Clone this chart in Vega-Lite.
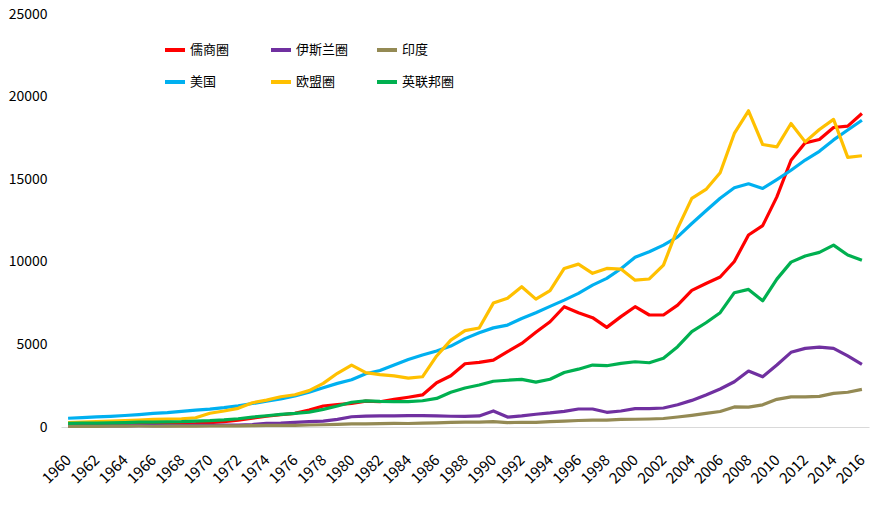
{
  "$schema": "https://vega.github.io/schema/vega-lite/v6.json",
  "autosize": {"type": "none"},
  "padding": {"left": 61, "top": 14, "right": 17, "bottom": 81},
  "width": 808,
  "height": 413,
  "background": "white",
  "data": {
    "values": [
      {"year": 1960, "儒商圈": 200, "伊斯兰圈": 60, "印度": 37, "美国": 530, "欧盟圈": 260, "英联邦圈": 220},
      {"year": 1961, "儒商圈": 200, "伊斯兰圈": 62, "印度": 39, "美国": 565, "欧盟圈": 290, "英联邦圈": 230},
      {"year": 1962, "儒商圈": 195, "伊斯兰圈": 65, "印度": 42, "美国": 610, "欧盟圈": 320, "英联邦圈": 240},
      {"year": 1963, "儒商圈": 195, "伊斯兰圈": 68, "印度": 48, "美国": 645, "欧盟圈": 350, "英联邦圈": 250},
      {"year": 1964, "儒商圈": 195, "伊斯兰圈": 72, "印度": 56, "美国": 695, "欧盟圈": 380, "英联邦圈": 270},
      {"year": 1965, "儒商圈": 190, "伊斯兰圈": 78, "印度": 59, "美国": 750, "欧盟圈": 420, "英联邦圈": 290},
      {"year": 1966, "儒商圈": 185, "伊斯兰圈": 82, "印度": 45, "美国": 820, "欧盟圈": 460, "英联邦圈": 300},
      {"year": 1967, "儒商圈": 185, "伊斯兰圈": 85, "印度": 50, "美国": 870, "欧盟圈": 480, "英联邦圈": 310},
      {"year": 1968, "儒商圈": 185, "伊斯兰圈": 90, "印度": 53, "美国": 950, "欧盟圈": 500, "英联邦圈": 320},
      {"year": 1969, "儒商圈": 210, "伊斯兰圈": 95, "印度": 58, "美国": 1020, "欧盟圈": 560, "英联邦圈": 350},
      {"year": 1970, "儒商圈": 260, "伊斯兰圈": 100, "印度": 62, "美国": 1080, "欧盟圈": 830, "英联邦圈": 380},
      {"year": 1971, "儒商圈": 330, "伊斯兰圈": 110, "印度": 67, "美国": 1170, "欧盟圈": 970, "英联邦圈": 430},
      {"year": 1972, "儒商圈": 420, "伊斯兰圈": 120, "印度": 71, "美国": 1280, "欧盟圈": 1130, "英联邦圈": 500},
      {"year": 1973, "儒商圈": 540, "伊斯兰圈": 150, "印度": 85, "美国": 1420, "欧盟圈": 1470, "英联邦圈": 600},
      {"year": 1974, "儒商圈": 650, "伊斯兰圈": 220, "印度": 99, "美国": 1560, "欧盟圈": 1630, "英联邦圈": 680},
      {"year": 1975, "儒商圈": 740, "伊斯兰圈": 240, "印度": 98, "美国": 1700, "欧盟圈": 1830, "英联邦圈": 760},
      {"year": 1976, "儒商圈": 830, "伊斯兰圈": 280, "印度": 102, "美国": 1880, "欧盟圈": 1950, "英联邦圈": 820},
      {"year": 1977, "儒商圈": 1020, "伊斯兰圈": 320, "印度": 121, "美国": 2110, "欧盟圈": 2200, "英联邦圈": 900},
      {"year": 1978, "儒商圈": 1270, "伊斯兰圈": 360, "印度": 137, "美国": 2380, "欧盟圈": 2640, "英联邦圈": 1070},
      {"year": 1979, "儒商圈": 1350, "伊斯兰圈": 460, "印度": 153, "美国": 2640, "欧盟圈": 3250, "英联邦圈": 1270},
      {"year": 1980, "儒商圈": 1430, "伊斯兰圈": 620, "印度": 186, "美国": 2860, "欧盟圈": 3750, "英联邦圈": 1500},
      {"year": 1981, "儒商圈": 1570, "伊斯兰圈": 660, "印度": 193, "美国": 3220, "欧盟圈": 3290, "英联邦圈": 1580},
      {"year": 1982, "儒商圈": 1530, "伊斯兰圈": 670, "印度": 200, "美国": 3420, "欧盟圈": 3170, "英联邦圈": 1550},
      {"year": 1983, "儒商圈": 1670, "伊斯兰圈": 670, "印度": 218, "美国": 3750, "欧盟圈": 3090, "英联邦圈": 1540},
      {"year": 1984, "儒商圈": 1800, "伊斯兰圈": 690, "印度": 212, "美国": 4080, "欧盟圈": 2960, "英联邦圈": 1540},
      {"year": 1985, "儒商圈": 1940, "伊斯兰圈": 690, "印度": 232, "美国": 4360, "欧盟圈": 3040, "英联邦圈": 1590},
      {"year": 1986, "儒商圈": 2680, "伊斯兰圈": 670, "印度": 248, "美国": 4600, "欧盟圈": 4300, "英联邦圈": 1730},
      {"year": 1987, "儒商圈": 3100, "伊斯兰圈": 650, "印度": 279, "美国": 4900, "欧盟圈": 5260, "英联邦圈": 2100},
      {"year": 1988, "儒商圈": 3830, "伊斯兰圈": 640, "印度": 296, "美国": 5350, "欧盟圈": 5830, "英联邦圈": 2360},
      {"year": 1989, "儒商圈": 3910, "伊斯兰圈": 670, "印度": 296, "美国": 5700, "欧盟圈": 5990, "英联邦圈": 2540},
      {"year": 1990, "儒商圈": 4050, "伊斯兰圈": 970, "印度": 321, "美国": 6000, "欧盟圈": 7500, "英联邦圈": 2770},
      {"year": 1991, "儒商圈": 4560, "伊斯兰圈": 600, "印度": 270, "美国": 6170, "欧盟圈": 7800, "英联邦圈": 2830},
      {"year": 1992, "儒商圈": 5060, "伊斯兰圈": 670, "印度": 288, "美国": 6570, "欧盟圈": 8490, "英联邦圈": 2880},
      {"year": 1993, "儒商圈": 5730, "伊斯兰圈": 770, "印度": 279, "美国": 6920, "欧盟圈": 7740, "英联邦圈": 2720},
      {"year": 1994, "儒商圈": 6370, "伊斯兰圈": 850, "印度": 327, "美国": 7300, "欧盟圈": 8250, "英联邦圈": 2890},
      {"year": 1995, "儒商圈": 7280, "伊斯兰圈": 950, "印度": 360, "美国": 7680, "欧盟圈": 9600, "英联邦圈": 3300},
      {"year": 1996, "儒商圈": 6920, "伊斯兰圈": 1090, "印度": 393, "美国": 8090, "欧盟圈": 9860, "英联邦圈": 3500},
      {"year": 1997, "儒商圈": 6620, "伊斯兰圈": 1090, "印度": 415, "美国": 8590, "欧盟圈": 9300, "英联邦圈": 3750},
      {"year": 1998, "儒商圈": 6030, "伊斯兰圈": 890, "印度": 421, "美国": 9000, "欧盟圈": 9600, "英联邦圈": 3710},
      {"year": 1999, "儒商圈": 6680, "伊斯兰圈": 970, "印度": 458, "美国": 9580, "欧盟圈": 9560, "英联邦圈": 3850},
      {"year": 2000, "儒商圈": 7280, "伊斯兰圈": 1110, "印度": 468, "美国": 10280, "欧盟圈": 8890, "英联邦圈": 3950},
      {"year": 2001, "儒商圈": 6780, "伊斯兰圈": 1110, "印度": 485, "美国": 10610, "欧盟圈": 8960, "英联邦圈": 3890},
      {"year": 2002, "儒商圈": 6780, "伊斯兰圈": 1150, "印度": 515, "美国": 11010, "欧盟圈": 9800, "英联邦圈": 4160},
      {"year": 2003, "儒商圈": 7380, "伊斯兰圈": 1350, "印度": 607, "美国": 11510, "欧盟圈": 12020, "英联邦圈": 4860},
      {"year": 2004, "儒商圈": 8270, "伊斯兰圈": 1610, "印度": 709, "美国": 12320, "欧盟圈": 13840, "英联邦圈": 5770},
      {"year": 2005, "儒商圈": 8690, "伊斯兰圈": 1940, "印度": 820, "美国": 13090, "欧盟圈": 14380, "英联邦圈": 6310},
      {"year": 2006, "儒商圈": 9080, "伊斯兰圈": 2300, "印度": 940, "美国": 13850, "欧盟圈": 15390, "英联邦圈": 6920},
      {"year": 2007, "儒商圈": 10020, "伊斯兰圈": 2740, "印度": 1216, "美国": 14480, "欧盟圈": 17770, "英联邦圈": 8130},
      {"year": 2008, "儒商圈": 11620, "伊斯兰圈": 3390, "印度": 1199, "美国": 14720, "欧盟圈": 19140, "英联邦圈": 8330},
      {"year": 2009, "儒商圈": 12190, "伊斯兰圈": 3040, "印度": 1342, "美国": 14440, "欧盟圈": 17100, "英联邦圈": 7640},
      {"year": 2010, "儒商圈": 13930, "伊斯兰圈": 3750, "印度": 1676, "美国": 14980, "欧盟圈": 16960, "英联邦圈": 8950},
      {"year": 2011, "儒商圈": 16150, "伊斯兰圈": 4520, "印度": 1823, "美国": 15540, "欧盟圈": 18370, "英联邦圈": 9980},
      {"year": 2012, "儒商圈": 17200, "伊斯兰圈": 4760, "印度": 1828, "美国": 16160, "欧盟圈": 17260, "英联邦圈": 10350},
      {"year": 2013, "儒商圈": 17400, "伊斯兰圈": 4840, "印度": 1857, "美国": 16690, "欧盟圈": 18010, "英联邦圈": 10570},
      {"year": 2014, "儒商圈": 18130, "伊斯兰圈": 4760, "印度": 2039, "美国": 17380, "欧盟圈": 18620, "英联邦圈": 11010},
      {"year": 2015, "儒商圈": 18210, "伊斯兰圈": 4300, "印度": 2103, "美国": 17980, "欧盟圈": 16320, "英联邦圈": 10410},
      {"year": 2016, "儒商圈": 18980, "伊斯兰圈": 3790, "印度": 2274, "美国": 18570, "欧盟圈": 16420, "英联邦圈": 10100}
    ]
  },
  "transform": [
    {"fold": ["儒商圈", "伊斯兰圈", "印度", "美国", "欧盟圈", "英联邦圈"], "as": ["series", "value"]}
  ],
  "mark": {"type": "line", "strokeWidth": 3.2, "strokeJoin": "round"},
  "encoding": {
    "x": {
      "field": "year",
      "type": "quantitative",
      "scale": {"domain": [1959.5, 2016.5], "nice": false, "zero": false},
      "axis": {
        "title": null,
        "values": [1960, 1962, 1964, 1966, 1968, 1970, 1972, 1974, 1976, 1978, 1980, 1982, 1984, 1986, 1988, 1990, 1992, 1994, 1996, 1998, 2000, 2002, 2004, 2006, 2008, 2010, 2012, 2014, 2016],
        "format": "d",
        "labelAngle": -45,
        "labelAlign": "right",
        "labelBaseline": "middle",
        "labelPadding": 30,
        "labelFontSize": 15,
        "ticks": false,
        "grid": false,
        "domainColor": "#D9D9D9",
        "labelFlush": false,
        "labelOverlap": false
      }
    },
    "y": {
      "field": "value",
      "type": "quantitative",
      "scale": {"domain": [0, 25000], "nice": false},
      "axis": {
        "title": null,
        "values": [0, 5000, 10000, 15000, 20000, 25000],
        "format": "d",
        "domain": false,
        "ticks": false,
        "grid": false,
        "labelPadding": 14
      }
    },
    "color": {
      "field": "series",
      "type": "nominal",
      "scale": {
        "domain": ["儒商圈", "伊斯兰圈", "印度", "美国", "欧盟圈", "英联邦圈"],
        "range": ["#FF0000", "#7030A0", "#948A54", "#00B0F0", "#FFC000", "#00B050"]
      },
      "legend": {
        "title": null,
        "orient": "none",
        "legendX": 102,
        "legendY": 24,
        "direction": "horizontal",
        "columns": 3,
        "gridAlign": "all",
        "columnPadding": 20,
        "rowPadding": 12,
        "symbolType": "stroke",
        "symbolSize": 400,
        "symbolStrokeWidth": 4,
        "labelOffset": 3,
        "labelFontSize": 13
      }
    }
  },
  "config": {
    "font": "Noto Sans CJK SC",
    "view": {"stroke": null},
    "axis": {"labelFontSize": 14, "labelColor": "#000000", "labelFont": "Noto Sans CJK SC"},
    "legend": {"labelColor": "#000000", "labelFont": "Noto Sans CJK SC"}
  }
}
